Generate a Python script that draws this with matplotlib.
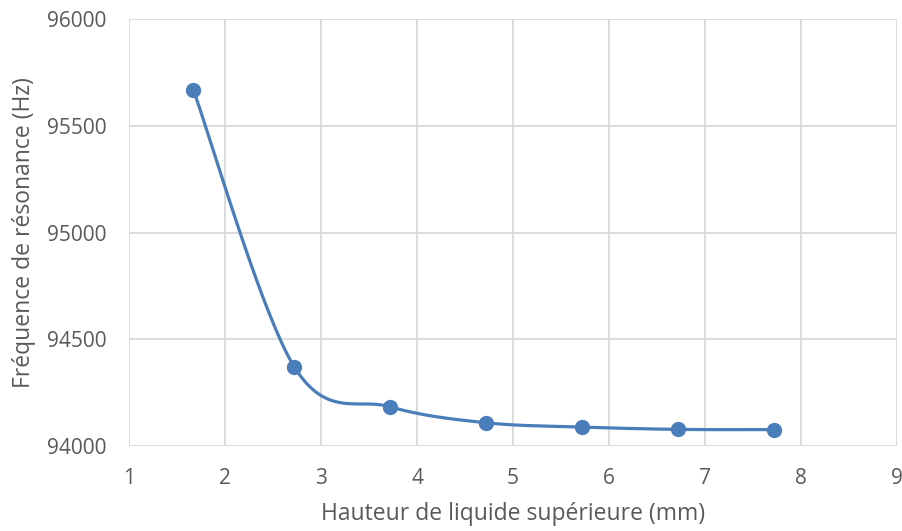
import matplotlib
matplotlib.use('Agg')
import matplotlib.pyplot as plt
import numpy as np

# hauteur de liquide (mm) et fréquence de résonance (Hz)
hauteur = [1.67, 2.72, 3.72, 4.72, 5.72, 6.72, 7.72]
frequence = [95669, 94372, 94184, 94109, 94089, 94078, 94077]

x_ticks = [1, 2, 3, 4, 5, 6, 7, 8, 9]
y_ticks = [94000, 94500, 95000, 95500, 96000]

plt.rcParams['font.family'] = ['Open Sans', 'DejaVu Sans']
GRIS = '#595959'
BLEU = '#4A7EBB'


# courbe lissée type tableur : Bezier cubique avec tangentes Catmull-Rom
def lissage(xs, ys, n=40):
    p = np.column_stack([xs, ys]).astype(float)
    pts = np.vstack([p[0], p, p[-1]])
    out = []
    t = np.linspace(0, 1, n)[:, None]
    for i in range(1, len(pts) - 2):
        p0, p1, p2, p3 = pts[i - 1], pts[i], pts[i + 1], pts[i + 2]
        c1 = p1 + (p2 - p0) / 6
        c2 = p2 - (p3 - p1) / 6
        seg = ((1 - t) ** 3) * p1 + 3 * ((1 - t) ** 2) * t * c1 + 3 * (1 - t) * t ** 2 * c2 + t ** 3 * p2
        out.append(seg)
    out = np.vstack(out)
    return out[:, 0], out[:, 1]


fig = plt.figure(figsize=(9.03, 5.31), dpi=100)
ax = fig.add_axes([0.1429, 0.160, 0.8505, 0.8037])

sx, sy = lissage(hauteur, frequence)
ax.plot(sx, sy, color=BLEU, lw=2.3, zorder=3, solid_capstyle='round')
ax.plot(hauteur, frequence, 'o', color=BLEU, ms=10, zorder=4)

ax.set_xlim(1, 9)
ax.set_ylim(94000, 96000)
ax.set_xticks(x_ticks)
ax.set_yticks(y_ticks)
ax.grid(True, color='#D9D9D9', lw=1.3)
ax.set_axisbelow(True)
for s in ax.spines.values():
    s.set_visible(False)
ax.tick_params(length=0, labelsize=15, colors=GRIS)
ax.tick_params(axis='x', pad=16)
ax.tick_params(axis='y', pad=16)

ax.set_xlabel('Hauteur de liquide supérieure (mm)', fontsize=16.5, color=GRIS, labelpad=9)
ax.set_ylabel('Fréquence de résonance (Hz)', fontsize=16.5, color=GRIS, labelpad=8)

fig.savefig('out.png', dpi=100)
